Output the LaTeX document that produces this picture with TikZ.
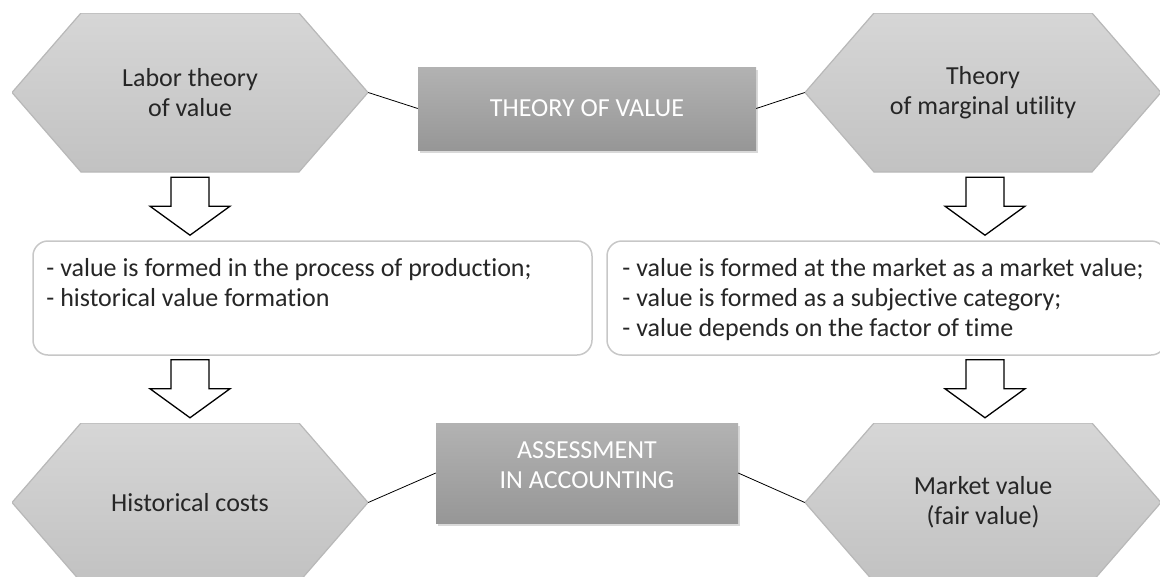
\documentclass[tikz,border=0pt]{standalone}
\usepackage{fontspec}
\setmainfont{Carlito}[Ligatures=CommonOff]
\usetikzlibrary{shadows}
\usetikzlibrary{positioning}
\definecolor{hexhi}{gray}{0.84}
\definecolor{hexlo}{gray}{0.76}
\definecolor{hexline}{gray}{0.72}
\definecolor{boxhi}{gray}{0.70}
\definecolor{boxlo}{gray}{0.59}
\definecolor{frameline}{gray}{0.78}
\definecolor{ink}{gray}{0.15}
\newcommand{\hexpath}{(path picture bounding box.west) -- ([xshift=69pt]path picture bounding box.north west) -- ([xshift=-69pt]path picture bounding box.north east) -- (path picture bounding box.east) -- ([xshift=-69pt]path picture bounding box.south east) -- ([xshift=69pt]path picture bounding box.south west) -- cycle}
\tikzset{t/.style={font=\fontsize{26}{30}\selectfont}}
\tikzset{hexa/.style={t, text=ink, align=center, inner sep=0pt, minimum width=356pt, minimum height=159pt, path picture={\shadedraw[top color=hexhi, bottom color=hexlo, draw=hexline, line width=1.2pt] \hexpath;}}}
\tikzset{dark/.style={t, text=white, align=center, top color=boxhi, bottom color=boxlo, drop shadow={shadow xshift=2pt, shadow yshift=-3pt, opacity=.3}}}
\tikzset{darktext/.style={t, text=white, align=center, inner sep=0pt}}
\tikzset{frame/.style={draw=frameline, line width=1.5pt, rounded corners=15pt, fill=white, minimum width=559pt, minimum height=114pt}}
\tikzset{list/.style={t, text=ink, align=left, inner sep=0pt, anchor=north west}}
\tikzset{link/.style={draw=black, line width=0.8pt}}
\tikzset{blockdown/.pic={\filldraw[fill=white, draw=black, line width=1.3pt] (-19,0) -- (19,0) -- (19,29) -- (40,29) -- (0,58) -- (-40,29) -- (-19,29) -- cycle;}}

\begin{document}
\begin{tikzpicture}[x=1pt,y=-1pt]
        \useasboundingbox (0,0) rectangle (1160,576);
        \clip (0,0) rectangle (1160,576);
        \node[hexa] (LTV) at (190,92.5) {Labor theory\\of value};
        \node[hexa] (TMU) at (983,92.5) {Theory\\of marginal utility};
        \node[dark, minimum width=338pt, minimum height=83pt] (TOV) at (587,108.5) {THEORY OF VALUE};
        \draw[link] (LTV.east) -- (TOV.west);
        \draw[link] (TOV.east) -- (TMU.west);
        \node[frame] (LB) at (312.5,298) {};
        \node[frame] (RB) at (886.5,298) {};
        \node[list] (LT) at ([xshift=14pt,yshift=-18pt]LB.north west) {- value is formed in the process of production;\\- historical value formation};
        \node[list] (RT) at ([xshift=16pt,yshift=-18pt]RB.north west) {- value is formed at the market as a market value;\\- value is formed as a subjective category;\\- value depends on the factor of time};
        \pic at ([yshift=-5pt]LTV.south) {blockdown};
        \pic at ([xshift=2pt,yshift=-5pt]TMU.south) {blockdown};
        \node[hexa] (HC) at (190,502.5) {Historical costs};
        \node[hexa] (MV) at (983,502.5) {Market value\\(fair value)};
        \node[dark, minimum width=302pt, minimum height=100pt] (AIA) at (587,473) {};
        \node[darktext] (AIAT) at ([yshift=8pt]AIA.center) {ASSESSMENT\\IN ACCOUNTING};
        \draw[link] (HC.east) -- (AIA.west);
        \draw[link] (AIA.east) -- (MV.west);
        \pic at ([yshift=-4pt]LTV.south |- LB.south) {blockdown};
        \pic at ([xshift=2pt,yshift=-4pt]TMU.south |- RB.south) {blockdown};
      \end{tikzpicture}
\end{document}
